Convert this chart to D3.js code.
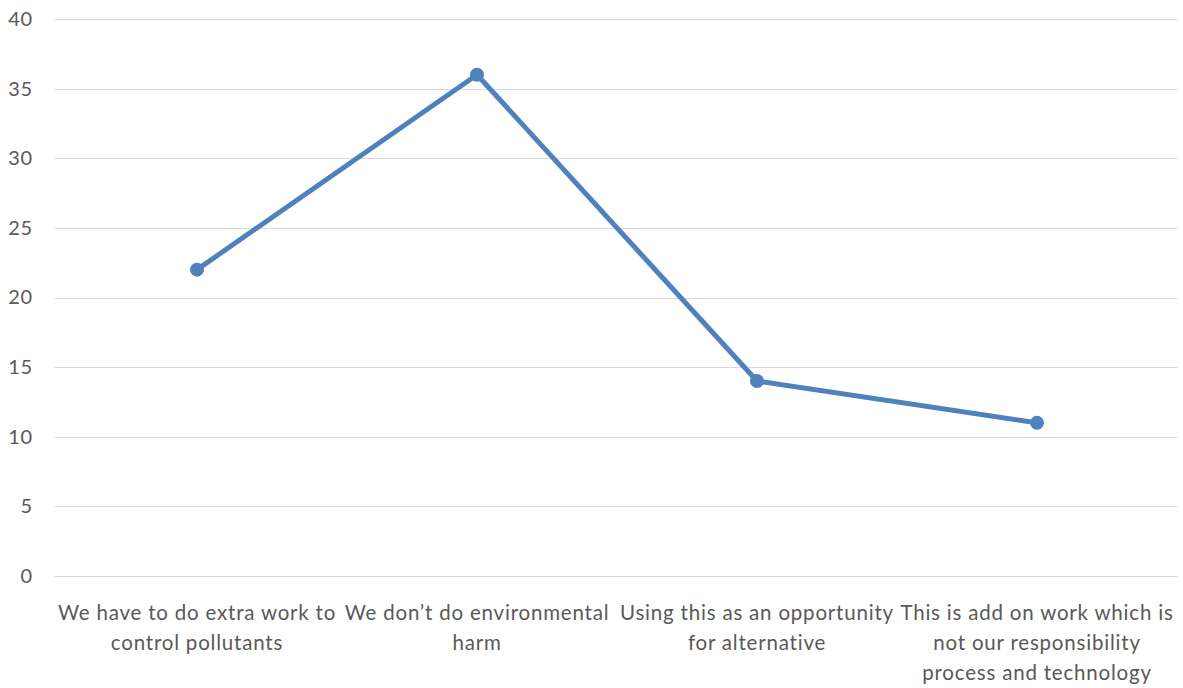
<!DOCTYPE html>
<html>
<head>
<meta charset="utf-8">
<script src="https://cdn.jsdelivr.net/npm/d3@7"></script>
<style>
  html, body { margin: 0; padding: 0; background: #fff; }
  svg { display: block; font-family: Lato, "Open Sans", sans-serif; }
</style>
</head>
<body>
<svg id="chart" width="1183" height="688"></svg>
<script>
// Categories (each split into the lines shown under the axis)
const categories = [
  "We have to do extra work to control pollutants",
  "We don\u2019t do environmental harm",
  "Using this as an opportunity for alternative",
  "This is add on work which is not our responsibility process and technology"
];
const categoryLines = [
  ["We have to do extra work to", "control pollutants"],
  ["We don\u2019t do environmental", "harm"],
  ["Using this as an opportunity", "for alternative"],
  ["This is add on work which is", "not our responsibility", "process and technology"]
];
const values = [22, 36, 14, 11];
const yTicks = [0, 5, 10, 15, 20, 25, 30, 35, 40];

const svg = d3.select("#chart");
const margin = { left: 57, right: 6, top: 19, bottom: 112 };
const W = 1183, H = 688;

const x = d3.scaleBand()
  .domain(categories)
  .range([margin.left, W - margin.right])
  .paddingInner(0).paddingOuter(0);

const y = d3.scaleLinear()
  .domain([0, 40])
  .range([H - margin.bottom, margin.top]);

// Horizontal gridlines
svg.append("g")
  .selectAll("line")
  .data(yTicks)
  .join("line")
  .attr("x1", margin.left - 2)
  .attr("x2", W - margin.right)
  .attr("y1", d => Math.round(y(d)) + 0.5)
  .attr("y2", d => Math.round(y(d)) + 0.5)
  .attr("stroke", "#d9d9d9")
  .attr("stroke-width", 1);

// Y axis labels
const yAxis = d3.axisLeft(y).tickValues(yTicks).tickSize(0).tickPadding(0);
const gy = svg.append("g")
  .attr("transform", `translate(${33},0)`)
  .call(yAxis);
gy.select(".domain").remove();
gy.selectAll("text")
  .attr("fill", "#595959")
  .attr("font-size", 20)
  .attr("letter-spacing", 0.8)
  .attr("font-family", "Lato, 'Open Sans', sans-serif");

// X axis category labels
const gx = svg.append("g");
const labels = gx.selectAll("text")
  .data(categories)
  .join("text")
  .attr("x", d => x(d) + x.bandwidth() / 2)
  .attr("y", 620)
  .attr("text-anchor", "middle")
  .attr("fill", "#595959")
  .attr("font-size", 20.5)
  .attr("letter-spacing", 0.8);
labels.selectAll("tspan")
  .data((d, i) => categoryLines[i])
  .join("tspan")
  .attr("x", function () { return this.parentNode.getAttribute("x"); })
  .attr("dy", (d, i) => i === 0 ? 0 : 30)
  .text(d => d);

// Series line
const pts = categories.map((c, i) => [x(c) + x.bandwidth() / 2, y(values[i])]);
svg.append("path")
  .datum(pts)
  .attr("d", d3.line())
  .attr("fill", "none")
  .attr("stroke", "#4f81bd")
  .attr("stroke-width", 5)
  .attr("stroke-linejoin", "round")
  .attr("stroke-linecap", "round");

// Markers
svg.append("g")
  .selectAll("circle")
  .data(pts)
  .join("circle")
  .attr("cx", d => d[0])
  .attr("cy", d => d[1])
  .attr("r", 7)
  .attr("fill", "#4f81bd");
</script>
</body>
</html>
